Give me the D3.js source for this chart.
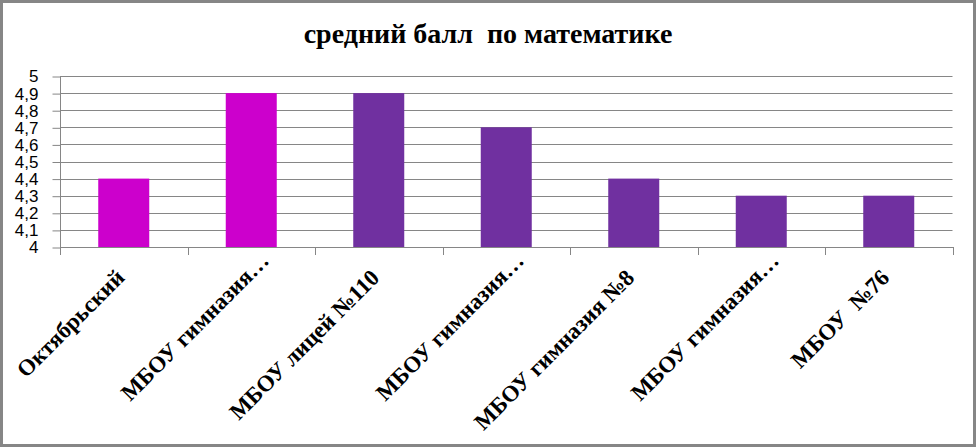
<!DOCTYPE html>
<html><head><meta charset="utf-8">
<script src="https://cdn.jsdelivr.net/npm/d3@7"></script>
<style>html,body{margin:0;padding:0;background:#fff;}</style>
</head><body>
<svg id="c" width="976" height="447"></svg>
<script>
const categories = ["Октябрьский","МБОУ гимназия…","МБОУ лицей №110","МБОУ гимназия…","МБОУ гимназия №8","МБОУ гимназия…","МБОУ  №76"];
const values = [4.4, 4.9, 4.9, 4.7, 4.4, 4.3, 4.3];
const barColors = ["#CC00CC","#CC00CC","#7030A0","#7030A0","#7030A0","#7030A0","#7030A0"];
const yTicks = [4,4.1,4.2,4.3,4.4,4.5,4.6,4.7,4.8,4.9,5];
const title = "средний балл  по математике";

(function(){
const svg = d3.select("#c");
const W=976,H=447;
svg.append("rect").attr("x",1.5).attr("y",1.5).attr("width",W-3).attr("height",H-3)
  .attr("fill","#fff").attr("stroke","#868686").attr("stroke-width",3);

const pl=60,pr=952.5,pt=76,pb=247;
const x=d3.scaleBand().domain(d3.range(categories.length)).range([pl,pr]).paddingInner(0.6).paddingOuter(0.3);
const y=d3.scaleLinear().domain([4,5]).range([pb,pt]);

svg.append("g").selectAll("line").data(yTicks.slice(1)).join("line")
  .attr("x1",pl).attr("x2",pr).attr("y1",d=>Math.round(y(d))+0.5).attr("y2",d=>Math.round(y(d))+0.5)
  .attr("stroke","#868686").attr("stroke-width",1);

svg.append("g").selectAll("rect").data(values).join("rect")
  .attr("x",(d,i)=>x(i)).attr("width",x.bandwidth())
  .attr("y",d=>y(d)).attr("height",d=>pb-y(d))
  .attr("fill",(d,i)=>barColors[i]);

const yAxis=d3.axisLeft(y).tickValues(yTicks).tickSize(8).tickPadding(14)
  .tickFormat(d=>d3.format(".1~f")(d).replace(".",","));
const gy=svg.append("g").attr("transform",`translate(${pl+0.5},0.5)`).call(yAxis);
gy.selectAll("text").attr("font-family","'Liberation Sans',Arial,sans-serif").attr("font-size",17).attr("fill","#000");
gy.selectAll("line,path").attr("stroke","#868686");
gy.select(".domain").attr("d",`M0,${y(5)}V${y(4)}`);

const xa=svg.append("g");
xa.append("line").attr("x1",pl).attr("x2",pr+0.5).attr("y1",pb+0.5).attr("y2",pb+0.5).attr("stroke","#868686");
const step=(pr-pl)/categories.length;
xa.selectAll("line.t").data(d3.range(categories.length+1)).join("line").attr("class","t")
  .attr("x1",i=>Math.round(pl+i*step)+0.5).attr("x2",i=>Math.round(pl+i*step)+0.5)
  .attr("y1",pb).attr("y2",pb+8).attr("stroke","#868686");

svg.append("g").selectAll("text").data(categories).join("text")
  .attr("transform",(d,i)=>{
    const extra = d.endsWith("…") ? 17 : 0;
    return `translate(${x(i)+x.bandwidth()/2+2+extra},${pb+32-extra}) rotate(-45)`;
  })
  .attr("text-anchor","end").attr("font-family","'Liberation Serif','Times New Roman',serif")
  .attr("font-weight","bold").attr("font-size",23).attr("fill","#000")
  .style("white-space","pre").text(d=>d);

svg.append("text").attr("x",488).attr("y",43).attr("text-anchor","middle")
  .attr("font-family","'Liberation Serif','Times New Roman',serif").attr("font-weight","bold")
  .attr("font-size",28).style("white-space","pre").text(title);
})();
</script>
</body></html>
